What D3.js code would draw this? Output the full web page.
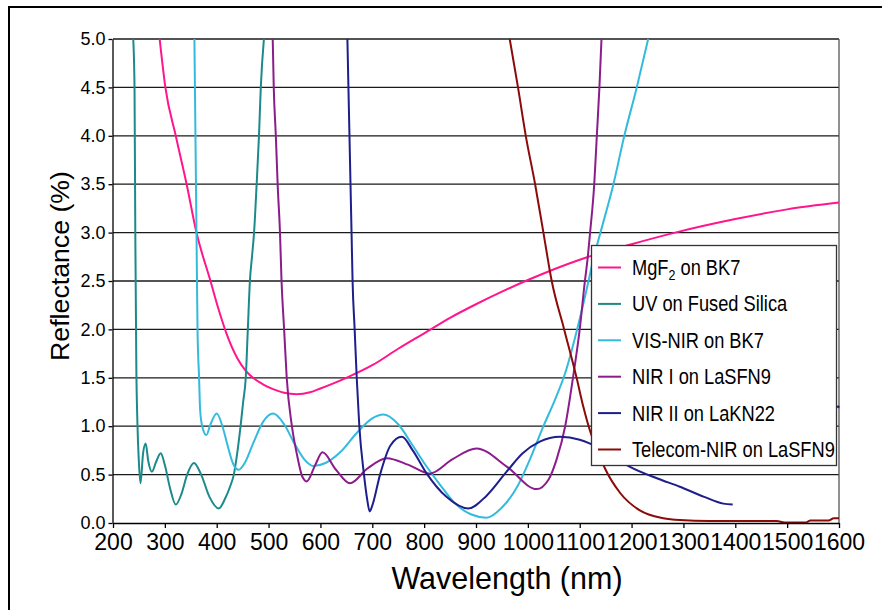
<!DOCTYPE html>
<html><head><meta charset="utf-8">
<script src="https://cdn.jsdelivr.net/npm/d3@7"></script>
<style>
body{margin:0;background:#fff;}
text{font-family:"Liberation Sans",Arial,sans-serif;fill:#000;}
</style></head><body>
<svg id="chart" width="882" height="610"></svg>
<script>
// ---------- data ----------
const xTicks = [200,300,400,500,600,700,800,900,1000,1100,1200,1300,1400,1500,1600];
const yTicks = [0,0.5,1,1.5,2,2.5,3,3.5,4,4.5,5];
const seriesNames = ["MgF2 on BK7","UV on Fused Silica","VIS-NIR on BK7","NIR I on LaSFN9","NIR II on LaKN22","Telecom-NIR on LaSFN9"];
const seriesColors = ["#ff168c","#1b8a8a","#33bbdd","#8c1c8c","#1e1e8c","#8b0b0b"];

const mgf2 = [[290,5.0],[301,4.5],[321,4.0],[342,3.5],[361,3.0],[388,2.5],[404,2.2],[418,1.97],[440,1.7],[455,1.58],[470,1.5],[490,1.43],[510,1.38],[530,1.345],[554,1.33],[580,1.35],[600,1.39],[650,1.5],[700,1.63],[750,1.8],[800,1.96],[850,2.12],[900,2.26],[950,2.39],[1000,2.51],[1100,2.72],[1200,2.88],[1284,3.0],[1400,3.14],[1500,3.24],[1600,3.31]];
const uvFused = [[239,5.0],[241.5,4.5],[243,3.0],[245,1.6],[247,1.05],[250,0.62],[253,0.41],[258,0.72],[263,0.82],[268,0.64],[275,0.53],[283,0.63],[292,0.72],[300,0.6],[310,0.36],[321,0.19],[332,0.3],[343,0.5],[356,0.62],[370,0.5],[386,0.27],[404,0.15],[416,0.25],[426,0.38],[433,0.5],[440,0.74],[446,1.0],[451,1.25],[456,1.5],[460,2.0],[464,2.5],[468,2.75],[472,3.0],[477,3.5],[481.5,4.0],[485,4.5],[491,5.0]];
const visNir = [[357,5.0],[359,4.0],[361,3.0],[363,2.0],[366,1.5],[368,1.17],[372,1.0],[380,0.91],[388,1.02],[400,1.13],[411,1.0],[421,0.8],[431,0.62],[442,0.55],[455,0.63],[470,0.82],[490,1.05],[509,1.13],[530,1.02],[550,0.82],[570,0.65],[586,0.59],[610,0.62],[638,0.73],[670,0.93],[700,1.08],[721,1.12],[750,1.02],[778,0.8],[800,0.62],[830,0.4],[860,0.2],[890,0.09],[920,0.055],[950,0.16],[980,0.38],[1005,0.67],[1030,1.0],[1052,1.27],[1072,1.55],[1095,2.0],[1117,2.5],[1126,2.72],[1140,3.0],[1165,3.5],[1186,4.0],[1210,4.5],[1232,5.0]];
const nir1 = [[508,5.0],[510,4.5],[514,4.0],[517.5,3.5],[522,3.0],[525,2.5],[530,2.0],[535,1.5],[545,1.0],[555,0.7],[565,0.48],[573.5,0.43],[590,0.6],[604,0.73],[630,0.55],[657,0.41],[690,0.56],[728,0.67],[770,0.6],[811,0.51],[855,0.66],[901,0.77],[960,0.58],[1017,0.35],[1040,0.45],[1055,0.65],[1072,1.0],[1087,1.5],[1100,2.0],[1110,2.5],[1115,2.72],[1120,3.0],[1128,3.5],[1133,4.0],[1138,4.5],[1142,5.0]];
const nir2 = [[652,5.0],[654,4.5],[656,4.0],[658,3.5],[660,3.0],[662,2.5],[666,2.0],[670,1.5],[675,1.0],[684,0.5],[690,0.25],[695,0.12],[700,0.18],[715,0.5],[735,0.8],[757,0.89],[778,0.75],[805,0.51],[843,0.27],[885,0.15],[920,0.28],[959,0.53],[990,0.72],[1023,0.84],[1062,0.89],[1100,0.86],[1120,0.82],[1150,0.74],[1197,0.58],[1250,0.46],[1293,0.375],[1340,0.27],[1377,0.2],[1395,0.19]];
const nir2Tail = [[1597,1.19],[1600,1.21]];
const telecom = [[965,5.0],[981,4.5],[996,4.0],[1014,3.5],[1030,3.0],[1046,2.5],[1070,2.0],[1094,1.5],[1107,1.2],[1120,0.95],[1135,0.74],[1149,0.56],[1178,0.31],[1216,0.13],[1261,0.05],[1293,0.03],[1350,0.02],[1409,0.02],[1480,0.02],[1495,0.005],[1535,0.005],[1545,0.025],[1580,0.025],[1590,0.05],[1600,0.05]];

const seriesData = [mgf2, uvFused, visNir, nir1, nir2, telecom];

// ---------- chart ----------
const svg = d3.select("#chart");
const x = d3.scaleLinear().domain([200,1600]).range([113,839]);
const y = d3.scaleLinear().domain([0,5]).range([523,39]);

// outer frame
svg.append("rect").attr("x",9).attr("y",7).attr("width",900).attr("height",700)
  .attr("fill","none").attr("stroke","#000").attr("stroke-width",2);

// gridlines
svg.append("g").selectAll("line").data(yTicks.filter(d=>d>0)).join("line")
  .attr("x1",x(200)).attr("x2",x(1600))
  .attr("y1",d=>y(d)).attr("y2",d=>y(d))
  .attr("stroke","#1a1a1a").attr("stroke-width",1.3);
// right border of plot
svg.append("line").attr("x1",x(1600)).attr("x2",x(1600)).attr("y1",y(5)).attr("y2",y(0))
  .attr("stroke","#555").attr("stroke-width",1.3);

svg.append("clipPath").attr("id","plotclip").append("rect")
  .attr("x",x(200)).attr("y",y(5)-1).attr("width",x(1600)-x(200)+1).attr("height",y(0)-y(5)+1);

const line = d3.line().x(d=>x(d[0])).y(d=>y(d[1])).curve(d3.curveMonotoneX);
const gLines = svg.append("g").attr("clip-path","url(#plotclip)");
seriesData.forEach((data,i)=>{
  gLines.append("path").datum(data).attr("d",line)
    .attr("fill","none").attr("stroke",seriesColors[i]).attr("stroke-width",2)
    .attr("stroke-linejoin","round");
});
gLines.append("path").datum(nir2Tail).attr("d",line)
  .attr("fill","none").attr("stroke",seriesColors[4]).attr("stroke-width",2.5);

// axes
const yAxis = d3.axisLeft(y).tickValues(yTicks).tickFormat(d3.format(".1f")).tickSize(4).tickSizeOuter(0).tickPadding(3);
const gy = svg.append("g").attr("transform",`translate(${x(200)-0.5},0)`).call(yAxis);
gy.selectAll("text").attr("font-size",18).attr("font-family","Liberation Sans, Arial, sans-serif");
gy.selectAll("line,path").attr("stroke","#000").attr("stroke-width",1.3);

const xAxis = d3.axisBottom(x).tickValues(xTicks).tickFormat(d3.format("d")).tickSize(5).tickSizeOuter(0).tickPadding(6);
const gx = svg.append("g").attr("transform",`translate(0,${y(0)})`).call(xAxis);
gx.selectAll("text").attr("font-size",23).attr("font-family","Liberation Sans, Arial, sans-serif");
gx.selectAll("line,path").attr("stroke","#000").attr("stroke-width",1.3);

// axis titles
svg.append("text").attr("x",507).attr("y",589).attr("text-anchor","middle")
  .attr("font-size",30.5).text("Wavelength (nm)");
svg.append("text").attr("transform","translate(69,266) rotate(-90)").attr("text-anchor","middle")
  .attr("font-size",26.7).text("Reflectance (%)");

// legend
const lg = svg.append("g");
lg.append("rect").attr("x",591.5).attr("y",245.5).attr("width",245).attr("height",220)
  .attr("fill","#fff").attr("stroke","#333").attr("stroke-width",1.3);
seriesNames.forEach((name,i)=>{
  const cy = 267.5 + i*36.4;
  lg.append("line").attr("x1",598).attr("x2",621).attr("y1",cy).attr("y2",cy)
    .attr("stroke",seriesColors[i]).attr("stroke-width",2);
  const t = lg.append("text").attr("transform",`translate(632,${cy+7.5}) scale(0.83,1)`)
    .attr("font-size",22);
  if(name.startsWith("MgF2")){
    t.append("tspan").text("MgF");
    t.append("tspan").attr("font-size",15).attr("dy",5).text("2");
    t.append("tspan").attr("dy",-5).text(" on BK7");
  } else {
    t.text(name);
  }
});
</script>
</body></html>
